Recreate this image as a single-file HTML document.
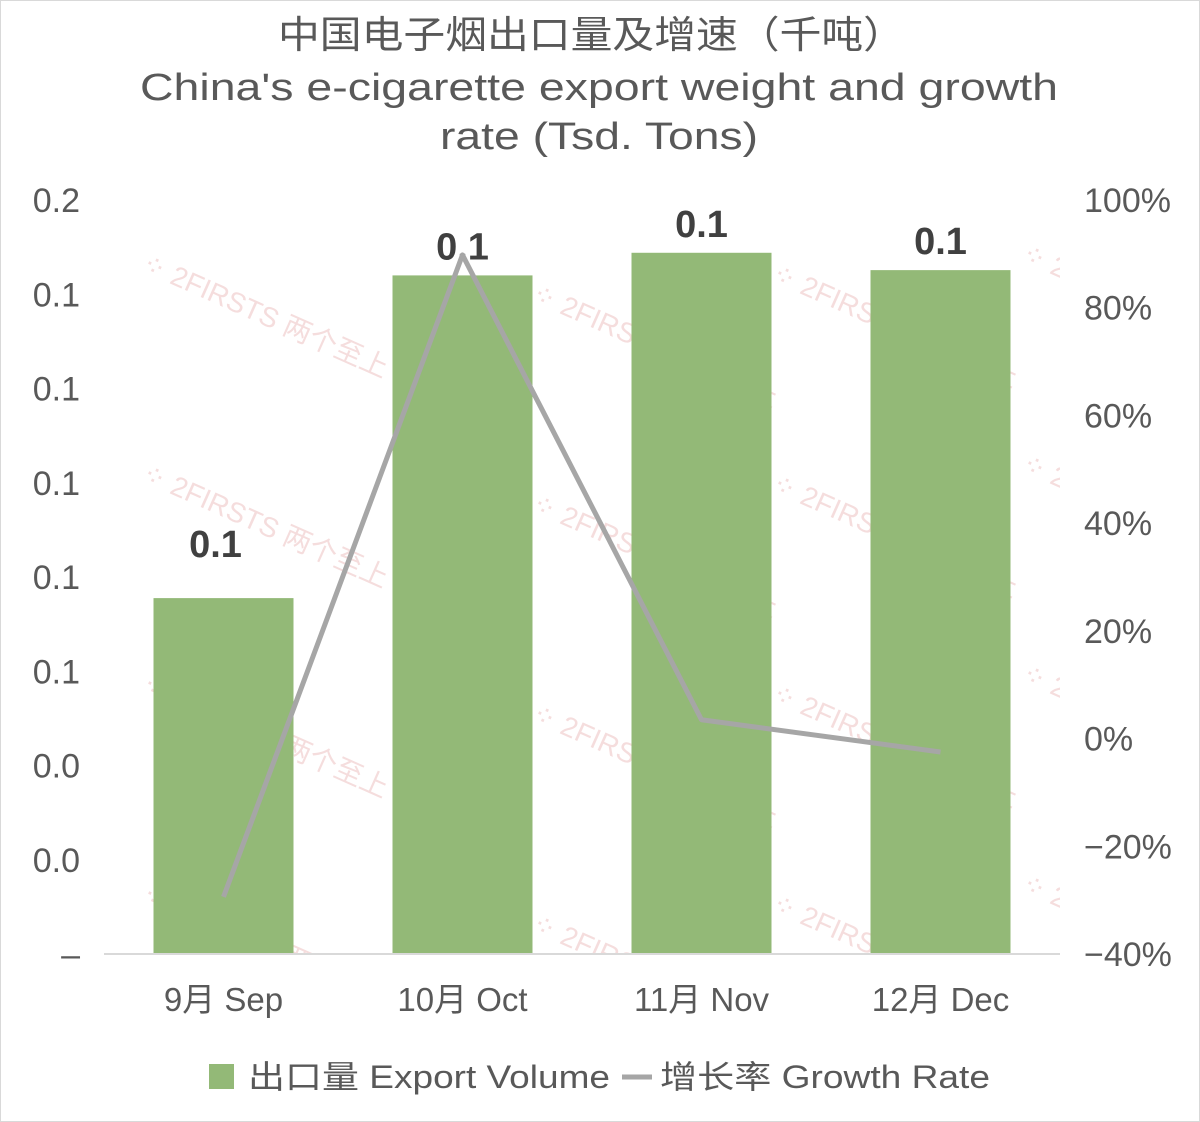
<!DOCTYPE html>
<html><head><meta charset="utf-8"><style>
html,body{margin:0;padding:0;background:#fff;}
svg{display:block;font-family:"Liberation Sans","Noto Sans CJK SC",sans-serif;}
</style></head><body>
<svg id="c" width="1200" height="1122" viewBox="0 0 1200 1122">
<defs><clipPath id="pc"><rect x="104" y="190" width="956" height="764"/></clipPath></defs>
<rect x="0.5" y="0.5" width="1199" height="1121" fill="#fff" stroke="#d9d9d9"/>
<g id="wm" fill="#e8b4b4" opacity="0.45" font-size="28" clip-path="url(#pc)"></g>
<g fill="#595959" font-size="38">
<text x="278" y="48" textLength="627" lengthAdjust="spacingAndGlyphs">中国电子烟出口量及增速（千吨）</text>
<text x="140" y="100" textLength="918" lengthAdjust="spacingAndGlyphs">China's e-cigarette export weight and growth</text>
<text x="440" y="149" textLength="318" lengthAdjust="spacingAndGlyphs">rate (Tsd. Tons)</text>
</g>
<g id="plot"></g>
<g>
<rect x="209" y="1064" width="25" height="25" fill="#93b977"/>
<text x="248" y="1088" font-size="32" fill="#595959" textLength="362" lengthAdjust="spacingAndGlyphs">出口量 Export Volume</text>
<line x1="622" y1="1077" x2="652" y2="1077" stroke="#a6a6a6" stroke-width="5"/>
<text x="660" y="1088" font-size="32" fill="#595959" textLength="330" lengthAdjust="spacingAndGlyphs">增长率 Growth Rate</text>
</g>
</svg>
<script>
const categories=["9月 Sep","10月 Oct","11月 Nov","12月 Dec"];
const volume=[0.0944,0.180,0.186,0.1814];
const volumeLabels=["0.1","0.1","0.1","0.1"];
const growth=[-29.4,89.8,3.5,-2.5];
const leftTicks=["–","0.0","0.0","0.1","0.1","0.1","0.1","0.1","0.2"];
const rightTicks=["−40%","−20%","0%","20%","40%","60%","80%","100%"];
const NS="http://www.w3.org/2000/svg";
const plotG=document.getElementById('plot');
const yTop=200,yBot=954,xLeft=104,xRight=1060;
const yL=v=>yBot-(v/0.2)*(yBot-yTop);
const yR=v=>yBot-((v+40)/140)*(yBot-yTop);
const band=(xRight-xLeft)/categories.length;
const xC=i=>xLeft+band*(i+0.5);
function mk(t,a,p){const e=document.createElementNS(NS,t);for(const k in a)e.setAttribute(k,a[k]);(p||plotG).appendChild(e);return e;}
leftTicks.forEach((t,i)=>{const e=mk('text',{x:80,y:yL(i*0.025)+12,'text-anchor':'end','font-size':34,fill:'#595959'});e.textContent=t;

});
rightTicks.forEach((t,i)=>{const e=mk('text',{x:1084,y:yR(-40+i*20)+12,'font-size':34,fill:'#595959'});e.textContent=t;

});
const wm=document.getElementById('wm');
[[140,270],[530,300],[770,280],[1020,260],[140,480],[530,510],[770,490],[1020,470],[140,690],[530,720],[770,700],[1020,680],[140,900],[530,930],[770,910],[1020,890]].forEach(p=>{
const t=mk('text',{transform:`translate(${p[0]},${p[1]}) rotate(24)`},wm);t.textContent='⁘ 2FIRSTS 两个至上';

});
volume.forEach((v,i)=>{const r=mk('rect',{x:xC(i)-70,y:yL(v),width:140,height:yBot-yL(v),fill:'#93b977'});


const t=mk('text',{x:xC(i)-(i===0?8:0),y:yL(v)-(i===0?41:16),'text-anchor':'middle','font-size':38,'font-weight':'bold',fill:'#404040'});t.textContent=volumeLabels[i];


const c=mk('text',{x:xC(i),y:1011,'text-anchor':'middle','font-size':33,fill:'#595959'});c.textContent=categories[i];

});
const ax=mk('line',{x1:xLeft,y1:yBot,x2:xRight,y2:yBot,stroke:'#d9d9d9','stroke-width':2});


const pl=mk('polyline',{points:growth.map((g,i)=>xC(i)+','+yR(g)).join(' '),fill:'none',stroke:'#a6a6a6','stroke-width':5,'stroke-linejoin':'round'});


</script>
</body></html>
